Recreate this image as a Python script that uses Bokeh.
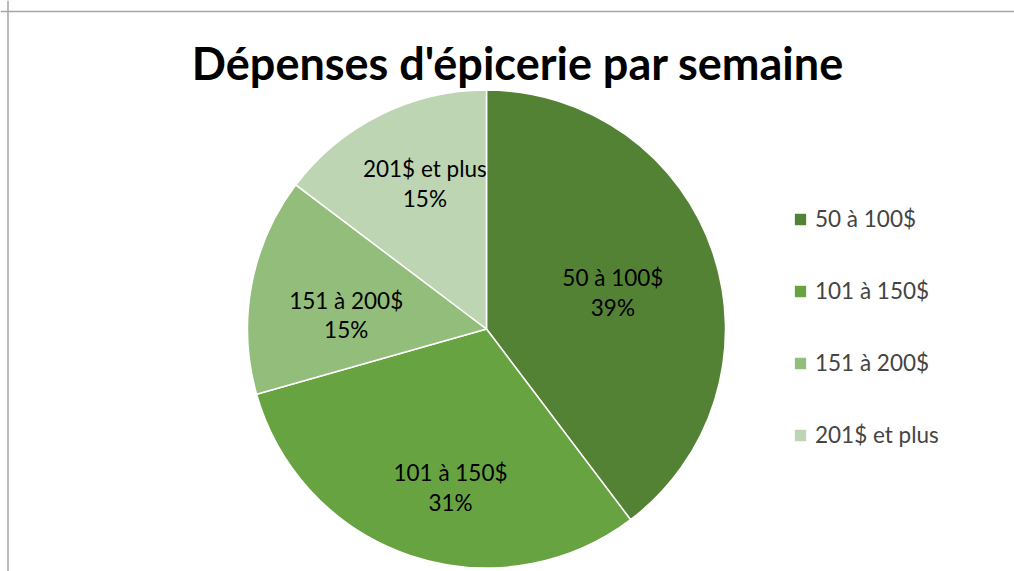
import math
from bokeh.plotting import figure
from bokeh.models import Range1d, Legend, LegendItem, Span, ColumnDataSource
from bokeh.core.properties import value
from bokeh.embed import file_html
from bokeh.resources import INLINE

# ---- data ----
categories = ["50 à 100$", "101 à 150$", "151 à 200$", "201$ et plus"]
shares = [0.397, 0.309, 0.147, 0.147]
pct_labels = ["39%", "31%", "15%", "15%"]
colors = ["#548235", "#68A342", "#93BD7A", "#BDD5B2"]
title_text = "Dépenses d'épicerie par semaine"

# ---- layout (pixel-like data space) ----
W, H = 1014, 571
CX, CY, R = 486, 242.5, 239
label_angle_deg = [74, 192.8, 275.7, 337]
label_rfrac = [0.55, 0.68, 0.59, 0.66]
FONT = "Lato"

p = figure(width=W, height=H, x_range=Range1d(0, W), y_range=Range1d(0, H),
           output_backend="svg", toolbar_location=None, min_border=0,
           outline_line_color=None)
p.axis.visible = False
p.grid.visible = False
p.background_fill_color = "white"
p.border_fill_color = "white"

total = sum(shares)
starts, ends = [], []
cum = 0.0
for s in shares:
    a0 = math.pi / 2 - 2 * math.pi * cum / total
    cum += s
    a1 = math.pi / 2 - 2 * math.pi * cum / total
    starts.append(a0)
    ends.append(a1)

src = ColumnDataSource(dict(x=[CX] * 4, y=[CY] * 4, start=starts, end=ends,
                            color=colors, cat=categories))
wr = p.wedge(x="x", y="y", radius=R, start_angle="start", end_angle="end",
             direction="clock", fill_color="color", line_color="white",
             line_width=1.5, source=src)

# data labels
lx, ly, lt = [], [], []
for i in range(4):
    a = math.radians(label_angle_deg[i])
    lx.append(CX + label_rfrac[i] * R * math.sin(a))
    ly.append(CY + label_rfrac[i] * R * math.cos(a))
    lt.append(categories[i] + "\n" + pct_labels[i])
p.text(x=lx, y=ly, text=lt, text_align="center", text_baseline="middle",
       text_font=value(FONT), text_font_size="22.5px", text_color="black",
       text_line_height=1.1)

# title
p.text(x=[517.5], y=[H - 62], text=[title_text], text_align="center",
       text_baseline="middle", text_font=value(FONT),
       text_font_size="45px", text_font_style="bold", text_color="black")

# border (left and top only visible in reference)
p.add_layout(Span(location=7.5, dimension="height", line_color="#a6a6a6", line_width=1.5))
p.add_layout(Span(location=H - 11, dimension="width", line_color="#a6a6a6", line_width=1.5))

items = [LegendItem(label=categories[i], renderers=[wr], index=i) for i in range(4)]
legend = Legend(items=items, location=(792, 123), orientation="vertical",
                glyph_width=16, glyph_height=16, label_text_font=FONT,
                label_text_font_size="22.5px", label_standoff=7, spacing=45,
                padding=0, margin=0, border_line_alpha=0,
                background_fill_alpha=0, label_height=20)
p.add_layout(legend)

open("out.html", "w").write(file_html(p, INLINE))
